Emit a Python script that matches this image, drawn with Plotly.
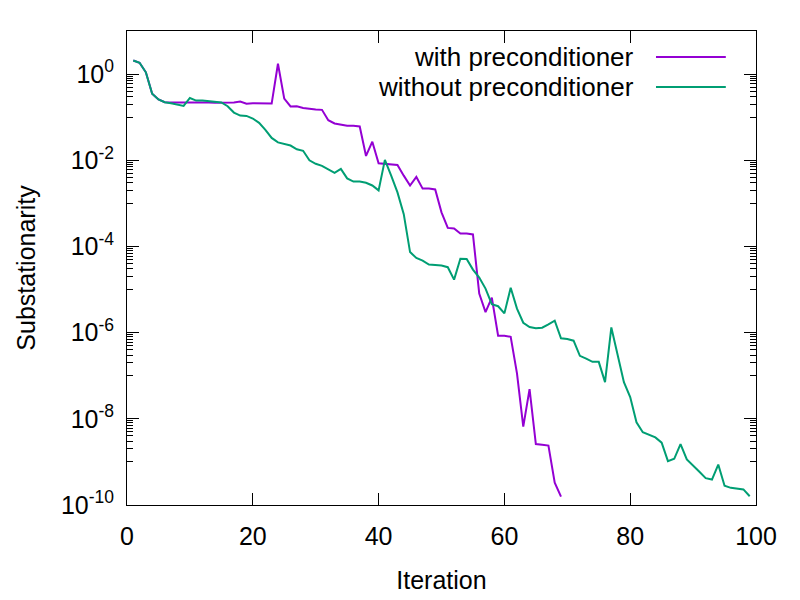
import plotly.graph_objects as go

# --- Data ---
iter_with = list(range(1, 70))
res_with = [
    2.07, 1.83, 1.1, 0.35, 0.257, 0.222, 0.22, 0.22, 0.22, 0.22,
    0.225, 0.225, 0.22, 0.215, 0.215, 0.215, 0.22, 0.23, 0.205, 0.21,
    0.21, 0.21, 0.207, 1.74, 0.27, 0.178, 0.18, 0.164, 0.156, 0.151,
    0.148, 0.085, 0.0715, 0.066, 0.063, 0.063, 0.061, 0.0126, 0.027, 0.0085,
    0.0083, 0.0079, 0.0078, 0.0044, 0.0026, 0.0041, 0.0022, 0.0022, 0.0021, 6.2e-4,
    2.7e-4, 2.6e-4, 2.0e-4, 2.0e-4, 1.9e-4, 8.1e-6, 3.0e-6, 6.5e-6, 8.5e-7, 8.5e-7,
    8.0e-7, 1.14e-7, 6.6e-9, 4.9e-8, 2.6e-9, 2.5e-9, 2.4e-9, 3.3e-10, 1.56e-10,
]

iter_without = list(range(1, 100))
res_without = [
    2.07, 1.83, 1.1, 0.35, 0.257, 0.222, 0.21, 0.195, 0.182, 0.279,
    0.243, 0.243, 0.235, 0.23, 0.219, 0.18, 0.128, 0.109, 0.107, 0.093,
    0.074, 0.051, 0.033, 0.026, 0.024, 0.022, 0.018, 0.0166, 0.010, 0.0083,
    0.0074, 0.006, 0.0051, 0.0063, 0.0038, 0.0032, 0.0032, 0.003, 0.0026, 0.002,
    0.0102, 0.0044, 0.0018, 5.6e-4, 7.4e-5, 5.4e-5, 4.7e-5, 3.8e-5, 3.7e-5, 3.6e-5,
    3.3e-5, 1.7e-5, 5.2e-5, 5.1e-5, 2.9e-5, 1.9e-5, 1.05e-5, 4.6e-6, 4.1e-6, 2.8e-6,
    1.1e-5, 3.6e-6, 1.7e-6, 1.35e-6, 1.26e-6, 1.3e-6, 1.55e-6, 1.9e-6, 7.4e-7, 7.1e-7,
    6.5e-7, 2.9e-7, 2.5e-7, 2.1e-7, 2.1e-7, 7.1e-8, 1.32e-6, 3.0e-7, 7.1e-8, 3.2e-8,
    8.3e-9, 4.9e-9, 4.2e-9, 3.7e-9, 2.8e-9, 1.04e-9, 1.18e-9, 2.6e-9, 1.14e-9, 8.0e-10,
    5.9e-10, 4.2e-10, 3.9e-10, 8.7e-10, 2.8e-10, 2.5e-10, 2.4e-10, 2.3e-10, 1.6e-10,
]

x_ticks = [0, 20, 40, 60, 80, 100]
y_exponents = [0, -2, -4, -6, -8, -10]
y_ticktext = ['10<sup>%d</sup>' % e for e in y_exponents]

series = [
    ('with preconditioner', iter_with, res_with, '#9400d3'),
    ('without preconditioner', iter_without, res_without, '#009e73'),
]

FONT = 'Liberation Sans, Arial, sans-serif'

# --- Figure ---
fig = go.Figure()
for name, xs, ys, color in series:
    fig.add_trace(go.Scatter(x=xs, y=ys, mode='lines', name=name,
                             line=dict(color=color, width=2)))

# gnuplot-style minor ticks: the decade just below each major tick
minor_vals = [k / 10 * 10 ** e for e in y_exponents for k in range(1, 10)]

# page body has an 8px margin, so margins are shifted to compensate
fig.update_layout(
    width=800, height=600,
    plot_bgcolor='white', paper_bgcolor='white',
    margin=dict(l=119, r=52, t=23, b=103),
    font=dict(family=FONT, size=25, color='black'),
    showlegend=False,
    xaxis=dict(
        range=[0, 100], tickvals=x_ticks, ticks='inside', ticklen=12,
        tickcolor='black', showline=True, linecolor='black', linewidth=1,
        mirror='ticks', showgrid=False, zeroline=False, ticklabelstandoff=9,
        title=dict(text='Iteration', standoff=22, font=dict(size=25)),
    ),
    yaxis=dict(
        type='log', range=[-10, 1],
        tickvals=[10.0 ** e for e in y_exponents], ticktext=y_ticktext,
        ticks='inside', ticklen=12, tickcolor='black', ticklabelstandoff=7,
        minor=dict(tickvals=minor_vals, ticks='inside', ticklen=6, tickcolor='black'),
        showline=True, linecolor='black', linewidth=1, mirror='ticks',
        showgrid=False, zeroline=False,
        title=dict(text='Substationarity', standoff=18, font=dict(size=25)),
    ),
)

# legend drawn by hand so the key sits to the right of the label (as gnuplot does)
for row, (name, xs, ys, color) in enumerate(series):
    y = 0.945 - row * 0.063
    fig.add_annotation(xref='paper', yref='paper', x=0.809, y=y, text=name,
                       showarrow=False, xanchor='right', yanchor='middle',
                       font=dict(family=FONT, size=26, color='black'))
    fig.add_shape(type='line', xref='paper', yref='paper',
                  x0=0.841, x1=0.952, y0=y, y1=y,
                  line=dict(color=color, width=2))

fig.write_html('out.html')
